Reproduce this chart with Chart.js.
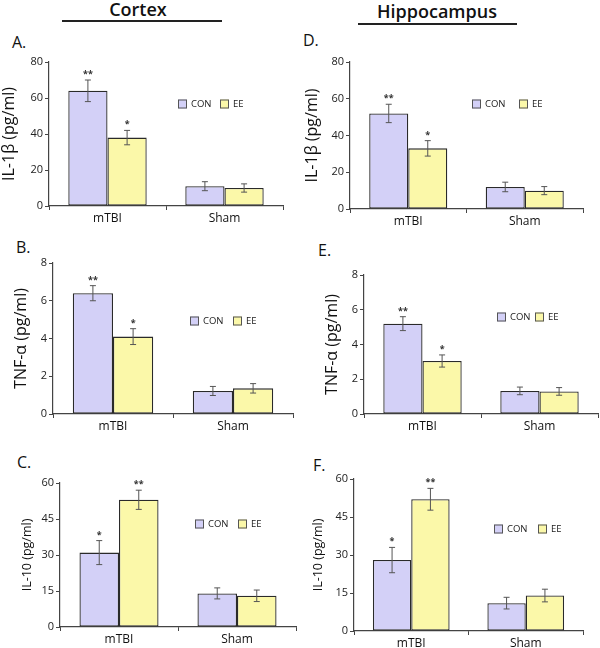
<!DOCTYPE html>
<html>
<head>
<meta charset="utf-8">
<script src="https://cdn.jsdelivr.net/npm/chart.js@4.4.0/dist/chart.umd.min.js"></script>
<style>
  body { margin: 0; background: #fff; }
  #wrap { position: relative; width: 600px; height: 648px; font-family: 'Open Sans', sans-serif; color: #111; overflow: hidden; }
  canvas { position: absolute; }
  .hdr { position: absolute; width: 200px; font-weight: 600; font-size: 18px; line-height: 1; text-align: center; }
  .rule { position: absolute; height: 1.5px; background: #222; }
  .tag { position: absolute; font-size: 16px; line-height: 1; }
</style>
</head>
<body>
<div id="wrap">
  <div class="hdr" style="left:38px; top:0px;">Cortex</div>
  <div class="rule" style="left:62px; top:20px; width:160px;"></div>
  <div class="hdr" style="left:337px; top:2px;">Hippocampus</div>
  <div class="rule" style="left:358px; top:23px; width:159px;"></div>

  <div class="tag" style="left:12px; top:34px;">A.</div>
  <div class="tag" style="left:16px; top:239px;">B.</div>
  <div class="tag" style="left:17px; top:454px;">C.</div>
  <div class="tag" style="left:303px; top:32px;">D.</div>
  <div class="tag" style="left:318px; top:242px;">E.</div>
  <div class="tag" style="left:313px; top:457px;">F.</div>

  <canvas id="chartA" width="290" height="172" style="left:0px; top:50px;"></canvas>
  <canvas id="chartB" width="298" height="182" style="left:0px; top:250px;"></canvas>
  <canvas id="chartC" width="300" height="175" style="left:0px; top:470px;"></canvas>
  <canvas id="chartD" width="290" height="175" style="left:300px; top:50px;"></canvas>
  <canvas id="chartE" width="300" height="170" style="left:300px; top:262px;"></canvas>
  <canvas id="chartF" width="290" height="182" style="left:300px; top:466px;"></canvas>
</div>

<script>
// groups and series
const categories = ['mTBI', 'Sham'];
const seriesNames = ['CON', 'EE'];

// y tick values per cytokine
const il1bTicks = [0, 20, 40, 60, 80];
const tnfTicks = [0, 2, 4, 6, 8];
const il10Ticks = [0, 15, 30, 45, 60];

// significance marks
const proStarsCon = ['**', ''];
const proStarsEE = ['*', ''];
const il10StarsCon = ['*', ''];
const il10StarsEE = ['**', ''];

// Cortex
const cortexIl1bCon = [64, 11];
const cortexIl1bConErr = [6, 2.5];
const cortexIl1bEE = [38, 10];
const cortexIl1bEEErr = [4, 2.3];

const cortexTnfCon = [6.4, 1.22];
const cortexTnfConErr = [0.4, 0.24];
const cortexTnfEE = [4.1, 1.36];
const cortexTnfEEErr = [0.42, 0.25];

const cortexIl10Con = [31, 14];
const cortexIl10ConErr = [5, 2.3];
const cortexIl10EE = [53, 13];
const cortexIl10EEErr = [4, 2.4];

// Hippocampus
const hippoIl1bCon = [52, 12];
const hippoIl1bConErr = [5, 2.6];
const hippoIl1bEE = [33, 10];
const hippoIl1bEEErr = [4.2, 2.2];

const hippoTnfCon = [5.2, 1.33];
const hippoTnfConErr = [0.4, 0.22];
const hippoTnfEE = [3.05, 1.3];
const hippoTnfEEErr = [0.35, 0.22];

const hippoIl10Con = [28, 11];
const hippoIl10ConErr = [5, 2.3];
const hippoIl10EE = [52, 14];
const hippoIl10EEErr = [4.3, 2.5];

const conColor = '#d3d0f7';
const eeColor = '#fbf8a9';
const FONT = "'Open Sans', sans-serif";

// draws error bars, stars and the little legend
const extrasPlugin = {
    id: 'extras',
    afterDatasetsDraw(chart) {
        const ctx = chart.ctx;
        const y = chart.scales.y;
        ctx.save();
        chart.data.datasets.forEach((ds, i) => {
            const meta = chart.getDatasetMeta(i);
            meta.data.forEach((bar, j) => {
                const v = ds.data[j], e = ds.errs[j];
                const top = y.getPixelForValue(v + e);
                const bot = y.getPixelForValue(v - e);
                ctx.strokeStyle = '#555';
                ctx.lineWidth = 1;
                ctx.beginPath();
                ctx.moveTo(bar.x, top); ctx.lineTo(bar.x, bot);
                ctx.moveTo(bar.x - 3, top); ctx.lineTo(bar.x + 3, top);
                ctx.moveTo(bar.x - 3, bot); ctx.lineTo(bar.x + 3, bot);
                ctx.stroke();
                if (ds.stars[j]) {
                    ctx.fillStyle = '#333';
                    ctx.font = 'bold 9px ' + FONT;
                    ctx.textAlign = 'center';
                    ctx.textBaseline = 'alphabetic';
                    ctx.fillText(ds.stars[j], bar.x, top - 3);
                }
            });
        });

        // legend
        const lg = chart.options.plugins.extras;
        const a = chart.chartArea;
        const cy = a.top + lg.dy;
        chart.data.datasets.forEach((ds, i) => {
            const bx = a.left + lg.dx + i * lg.gap;
            ctx.fillStyle = ds.backgroundColor;
            ctx.fillRect(bx, cy - 4.5, 9, 9);
            ctx.strokeStyle = '#555';
            ctx.lineWidth = 1;
            ctx.strokeRect(bx + 0.5, cy - 4, 8, 8);
            ctx.fillStyle = '#222';
            ctx.font = '9.5px ' + FONT;
            ctx.textAlign = 'left';
            ctx.textBaseline = 'middle';
            ctx.fillText(ds.label, bx + 13, cy);
        });
        ctx.restore();
    }
};

function makePanel(id, con, conErr, ee, eeErr, starsCon, starsEE, ticks, yTitle, lay) {
    const ctx = document.getElementById(id).getContext('2d');
    new Chart(ctx, {
        type: 'bar',
        data: {
            labels: categories,
            datasets: [
                { label: seriesNames[0], data: con, errs: conErr, stars: starsCon,
                  backgroundColor: conColor, borderColor: '#2a2a2a', borderWidth: 1.3, borderSkipped: false },
                { label: seriesNames[1], data: ee, errs: eeErr, stars: starsEE,
                  backgroundColor: eeColor, borderColor: '#2a2a2a', borderWidth: 1.3, borderSkipped: false }
            ]
        },
        options: {
            responsive: false,
            animation: false,
            layout: { padding: { top: lay.pt, right: lay.pr, left: 0, bottom: 0 } },
            datasets: { bar: { categoryPercentage: 0.67, barPercentage: 1.0 } },
            plugins: {
                legend: { display: false },
                tooltip: { enabled: false },
                extras: { dx: lay.lgx, dy: lay.lgy, gap: lay.lgGap }
            },
            scales: {
                x: {
                    grid: { drawOnChartArea: false, tickLength: 4, color: '#444', offset: true },
                    border: { color: '#444', width: 1.2 },
                    ticks: { font: { family: FONT, size: 12 }, color: '#111', padding: 1 },
                    afterFit: s => { s.height = lay.xh; }
                },
                y: {
                    min: ticks[0],
                    max: ticks[ticks.length - 1],
                    ticks: { stepSize: ticks[1] - ticks[0], font: { family: FONT, size: 11 }, color: '#222', padding: 2 },
                    grid: { drawOnChartArea: false, tickLength: 4, color: '#444' },
                    border: { color: '#444', width: 1.2 },
                    title: { display: true, text: yTitle, color: '#111',
                             font: { family: FONT, size: lay.ts }, padding: { top: lay.tp, bottom: 0 } },
                    afterFit: s => { s.width = lay.yw; }
                }
            }
        },
        plugins: [extrasPlugin]
    });
}

makePanel('chartA', cortexIl1bCon, cortexIl1bConErr, cortexIl1bEE, cortexIl1bEEErr, proStarsCon, proStarsEE, il1bTicks, 'IL-1β (pg/ml)',
    { yw: 49, pt: 12, pr: 7, xh: 16, ts: 16, tp: 0, lgx: 129, lgy: 42, lgGap: 42 });
makePanel('chartB', cortexTnfCon, cortexTnfConErr, cortexTnfEE, cortexTnfEEErr, proStarsCon, proStarsEE, tnfTicks, 'TNF-α (pg/ml)',
    { yw: 53, pt: 13, pr: 5, xh: 18, ts: 16, tp: 12, lgx: 137, lgy: 58, lgGap: 43 });
makePanel('chartC', cortexIl10Con, cortexIl10ConErr, cortexIl10EE, cortexIl10EEErr, il10StarsCon, il10StarsEE, il10Ticks, 'IL-10 (pg/ml)',
    { yw: 60, pt: 13, pr: 4, xh: 18, ts: 12.5, tp: 20, lgx: 135, lgy: 41, lgGap: 43 });
makePanel('chartD', hippoIl1bCon, hippoIl1bConErr, hippoIl1bEE, hippoIl1bEEErr, proStarsCon, proStarsEE, il1bTicks, 'IL-1β (pg/ml)',
    { yw: 50, pt: 12, pr: 7, xh: 16, ts: 16, tp: 2.4, lgx: 122, lgy: 42, lgGap: 47 });
makePanel('chartE', hippoTnfCon, hippoTnfConErr, hippoTnfEE, hippoTnfEEErr, proStarsCon, proStarsEE, tnfTicks, 'TNF-α (pg/ml)',
    { yw: 64, pt: 13, pr: 2, xh: 18, ts: 16, tp: 22.4, lgx: 133, lgy: 42, lgGap: 38 });
makePanel('chartF', hippoIl10Con, hippoIl10ConErr, hippoIl10EE, hippoIl10EEErr, il10StarsCon, il10StarsEE, il10Ticks, 'IL-10 (pg/ml)',
    { yw: 54, pt: 13, pr: 7, xh: 17, ts: 12.5, tp: 11.2, lgx: 140, lgy: 50, lgGap: 44 });
</script>
</body>
</html>
